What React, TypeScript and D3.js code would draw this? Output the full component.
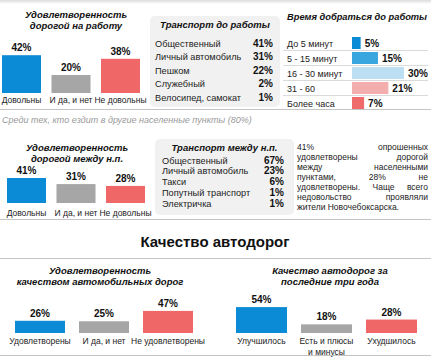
import React, { useEffect } from "react";
import * as d3 from "d3";

// ---------- Data ----------
const workSatCats = ["Довольны", "И да, и нет", "Не довольны"];
const workSatVals = [42, 20, 38];

const workTransportCats = ["Общественный", "Личный автомобиль", "Пешком", "Служебный", "Велосипед, самокат"];
const workTransportVals = [41, 31, 22, 2, 1];

const timeCats = ["До 5 минут", "5 - 15 минут", "16 - 30 минут", "31 - 60", "Более часа"];
const timeVals = [5, 15, 30, 21, 7];

const interSatCats = ["Довольны", "И да, и нет", "Не довольны"];
const interSatVals = [41, 31, 28];

const interTransportCats = ["Общественный", "Личный автомобиль", "Такси", "Попутный транспорт", "Электричка"];
const interTransportVals = [67, 23, 6, 1, 1];

const qualitySatCats = ["Удовлетворены", "И да, и нет", "Не удовлетворены"];
const qualitySatVals = [26, 25, 47];

const qualityTrendCats = ["Улучшилось", "Есть и плюсы|и минусы", "Ухудшилось"];
const qualityTrendVals = [54, 18, 28];

const paragraphLines = [
  "41% опрошенных",
  "удовлетворены дорогой",
  "между населенными",
  "пунктами, 28% не",
  "удовлетворены. Чаще всего",
  "недовольство проявляли",
  "жители Новочебоксарска.",
];

// ---------- Style ----------
const FONT = "'Liberation Sans', Arial, sans-serif";
const BLUE = "#0b8bd5";
const GRAY = "#a6a6a6";
const RED = "#f06767";
const barColors = [BLUE, GRAY, RED];
const timeColors = ["#0b8bd5", "#3aa6e0", "#bcdff3", "#f5aeae", "#ef6a6a"];
const LINE = "#c4c4c4";

function VBarChart({ cats, vals, x0, x1, pad, bottom, pxPerPct, fontSize = 8.5, catY }: any) {
  const x = d3.scaleBand<string>().domain(cats).range([x0, x1]).paddingInner(pad).paddingOuter(0);
  const h = d3.scaleLinear().domain([0, 100]).range([0, pxPerPct * 100]);
  return (
    <g>
      {cats.map((c: string, i: number) => {
        const bx = x(c)!;
        const bw = x.bandwidth();
        const top = bottom - h(vals[i]);
        const parts = c.split("|");
        return (
          <g key={c}>
            <rect x={bx} y={top} width={bw} height={h(vals[i])} fill={barColors[i]} />
            <text x={bx + bw / 2} y={top - 4} textAnchor="middle" fontSize={10} fontWeight="bold" fill="#111">
              {vals[i]}%
            </text>
            {parts.map((p, j) => (
              <text key={j} x={bx + bw / 2} y={catY + j * 11} textAnchor="middle" fontSize={fontSize} fill="#222">
                {p}
              </text>
            ))}
          </g>
        );
      })}
    </g>
  );
}

function Title({ lines, cx, y, size = 9.5 }: any) {
  return (
    <g>
      {lines.map((l: string, i: number) => (
        <text key={i} x={cx} y={y + i * 10.5} textAnchor="middle" fontSize={size} fontWeight="bold" fontStyle="italic" fill="#111">
          {l}
        </text>
      ))}
    </g>
  );
}

function TransportBox({ title, cats, vals, bx, by, bw, bh, titleY, rowY0, rowStep, labelX, valX }: any) {
  const y = d3.scalePoint<string>().domain(cats).range([rowY0, rowY0 + rowStep * (cats.length - 1)]);
  return (
    <g>
      <rect x={bx} y={by} width={bw} height={bh} rx={5} fill="#f1f1f1" />
      <text x={bx + bw / 2} y={titleY} textAnchor="middle" fontSize={9.5} fontWeight="bold" fontStyle="italic" fill="#111">
        {title}
      </text>
      {cats.map((c: string, i: number) => (
        <g key={c}>
          <text x={labelX} y={y(c)! + 3.5} fontSize={9.2} fill="#222">{c}</text>
          <text x={valX} y={y(c)! + 3.5} textAnchor="end" fontSize={10} fontWeight="bold" fill="#111">{vals[i]}%</text>
        </g>
      ))}
    </g>
  );
}

function measure(text: string, font: string) {
  const c = document.createElement("canvas");
  const ctx = c.getContext("2d")!;
  ctx.font = font;
  return ctx.measureText(text).width;
}

function Paragraph({ lines, x0, x1, y0, step, size }: any) {
  const font = `${size}px 'Liberation Sans'`;
  const space = measure(" ", font);
  return (
    <g>
      {lines.map((line: string, li: number) => {
        const words = line.split(" ");
        const y = y0 + li * step;
        const last = li === lines.length - 1;
        const widths = words.map((w) => measure(w, font));
        const total = widths.reduce((a, b) => a + b, 0);
        const gap = last || words.length < 2 ? space : Math.max(space, (x1 - x0 - total) / (words.length - 1));
        let cx = x0;
        return (
          <g key={li}>
            {words.map((w, wi) => {
              const el = (
                <text key={wi} x={cx} y={y} fontSize={size} fill="#222">{w}</text>
              );
              cx += widths[wi] + gap;
              return el;
            })}
          </g>
        );
      })}
    </g>
  );
}

export default function App() {
  useEffect(() => {
    document.body.style.margin = "0";
  }, []);

  const timeX = d3.scaleLinear().domain([0, 100]).range([0, 173]);

  return (
    <svg width={431} height={357} style={{ position: "absolute", left: 0, top: 0, fontFamily: FONT }} >
      <rect x={0} y={0} width={431} height={357} fill="#fff" />
      <defs>
        <linearGradient id="topShade" x1="0" y1="0" x2="0" y2="1">
          <stop offset="0" stopColor="#dcdcdc" />
          <stop offset="1" stopColor="#ffffff" />
        </linearGradient>
      </defs>
      <rect x={0} y={0} width={431} height={4} fill="url(#topShade)" />

      {/* Section 1 */}
      <Title lines={["Удовлетворенность", "дорогой на работу"]} cx={76} y={18} />
      <VBarChart cats={workSatCats} vals={workSatVals} x0={2} x1={140} pad={0.212} bottom={93} pxPerPct={0.9} catY={103} />

      <TransportBox title="Транспорт до работы" cats={workTransportCats} vals={workTransportVals}
        bx={150} by={16} bw={130} bh={91} titleY={28} rowY0={43} rowStep={13.5} labelX={155} valX={273} />

      <text x={287} y={20} fontSize={9.3} fontWeight="bold" fontStyle="italic" fill="#111">Время добраться до работы</text>
      {timeCats.map((c, i) => {
        const cy = 43 + i * 15;
        return (
          <g key={c}>
            {i > 0 && <line x1={283} x2={428} y1={cy - 7.5} y2={cy - 7.5} stroke="#dadada" strokeWidth={1} />}
            <text x={287} y={cy + 3.5} fontSize={9} fill="#222">{c}</text>
            <rect x={352} y={cy - 6} width={timeX(timeVals[i])} height={12} fill={timeColors[i]} />
            <text x={352 + timeX(timeVals[i]) + 4} y={cy + 3.5} fontSize={10} fontWeight="bold" fill="#111">{timeVals[i]}%</text>
          </g>
        );
      })}

      <line x1={0} x2={431} y1={109.5} y2={109.5} stroke={LINE} />
      <text x={2} y={123} fontSize={9} fontStyle="italic" fill="#9a9a9a">Среди тех, кто ездит в другие населенные пункты (80%)</text>

      {/* Section 2 */}
      <Title lines={["Удовлетворенность", "дорогой между н.п."]} cx={77} y={151} />
      <VBarChart cats={interSatCats} vals={interSatVals} x0={7} x1={145} pad={0.212} bottom={203} pxPerPct={0.61} catY={216} />

      <TransportBox title="Транспорт между н.п." cats={interTransportCats} vals={interTransportVals}
        bx={155} by={139} bw={139} bh={76} titleY={151} rowY0={160} rowStep={10.8} labelX={162} valX={284} />

      <Paragraph lines={paragraphLines} x0={297} x1={428} y0={150} step={10} size={8.5} />

      <line x1={0} x2={431} y1={219.5} y2={219.5} stroke={LINE} />

      {/* Section 3 */}
      <text x={215} y={247} textAnchor="middle" fontSize={15} fontWeight="900" fill="#111">Качество автодорог</text>
      <line x1={0} x2={431} y1={258.5} y2={258.5} stroke={LINE} />

      <Title lines={["Удовлетворенность", "качеством автомобильных дорог"]} cx={100} y={274} />
      <VBarChart cats={qualitySatCats} vals={qualitySatVals} x0={15} x1={193} pad={0.219} bottom={333} pxPerPct={0.47} catY={344} />

      <Title lines={["Качество автодорог за", "последние три года"]} cx={330} y={274} />
      <VBarChart cats={qualityTrendCats} vals={qualityTrendVals} x0={236} x1={417} pad={0.215} bottom={333} pxPerPct={0.48} catY={344} />

      <line x1={0} x2={431} y1={355.5} y2={355.5} stroke={LINE} />
    </svg>
  );
}
